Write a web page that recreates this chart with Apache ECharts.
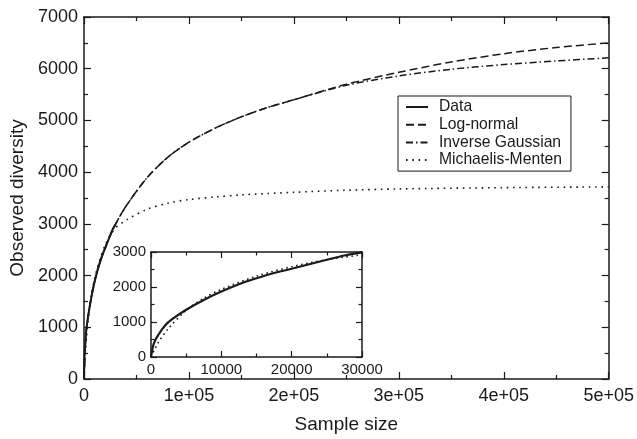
<!DOCTYPE html>
<html>
<head>
<meta charset="utf-8">
<script src="https://cdn.jsdelivr.net/npm/echarts@6/dist/echarts.min.js"></script>
<style>
  html, body { margin: 0; padding: 0; background: #fff; }
  #chart { width: 637px; height: 439px; }
</style>
</head>
<body>
<div id="chart"></div>
<script>
// observed data (sample size -> diversity), covers 0..30000
var dataX = [0, 300, 600, 1000, 2000, 3000, 5000, 7500, 10000, 12500, 15000, 17500, 20000, 22500, 25000, 27500, 30000];
var dataY = [0, 320, 480, 620, 900, 1080, 1350, 1630, 1870, 2080, 2250, 2400, 2520, 2650, 2780, 2900, 2990];

// fitted curves over the full range
var fitX = [0, 2000, 5000, 10000, 20000, 30000, 40000, 60000, 80000, 100000, 125000, 150000, 175000, 200000, 250000, 300000, 350000, 400000, 450000, 500000];
var logNormal = [0, 900, 1350, 1880, 2530, 2990, 3340, 3890, 4290, 4580, 4850, 5070, 5250, 5400, 5700, 5930, 6130, 6290, 6410, 6500];
var invGauss = [0, 900, 1350, 1880, 2530, 2990, 3340, 3890, 4290, 4580, 4850, 5070, 5250, 5400, 5680, 5860, 5990, 6080, 6150, 6210];

// Michaelis-Menten
var mmX = [0, 1000, 2500, 5000, 7500, 10000, 15000, 20000, 25000, 30000, 40000, 60000, 80000, 100000, 125000, 150000, 200000, 250000, 300000, 400000, 500000];
var mmY = [0, 400, 820, 1330, 1680, 1930, 2310, 2580, 2780, 2920, 3070, 3280, 3400, 3470, 3520, 3560, 3610, 3650, 3675, 3700, 3715];

var legendNames = ['Data', 'Log-normal', 'Inverse Gaussian', 'Michaelis-Menten'];

function pairs(xs, ys) {
  return xs.map(function (x, i) { return [x, ys[i]]; });
}

var ink = '#1a1a1a';
var font = 'Liberation Sans, Arial, sans-serif';

function mkAxis(extra, fontSize, tickLen) {
  var a = {
    type: 'value',
    axisLine: { show: true, onZero: false, lineStyle: { color: ink, width: 1.5 } },
    axisTick: { show: true, inside: true, length: tickLen, lineStyle: { color: ink, width: 1.2 } },
    minorTick: { show: true, splitNumber: 2, length: tickLen / 2 + 0.5, lineStyle: { color: ink, width: 1.2 } },
    splitLine: { show: false },
    minorSplitLine: { show: false },
    axisLabel: { color: ink, fontSize: fontSize, fontFamily: font, margin: 6, formatter: plainFmt }
  };
  for (var k in extra) a[k] = extra[k];
  return a;
}

function plainFmt(v) { return String(v); }
function sciFmt(v) { return v === 0 ? '0' : (v / 100000) + 'e+05'; }

var chart = echarts.init(document.getElementById('chart'));
chart.setOption({
  animation: false,
  backgroundColor: '#fff',
  legend: {
    data: legendNames,
    orient: 'vertical',
    left: 398,
    top: 96,
    padding: [3, 9, 3, 7],
    itemGap: 1.7,
    itemWidth: 22,
    itemHeight: 16,
    borderColor: ink,
    borderWidth: 1,
    borderRadius: 0,
    backgroundColor: '#fff',
    itemStyle: { opacity: 0 },
    textStyle: { color: ink, fontSize: 15.7, lineHeight: 16, fontFamily: font, padding: [0, 0, 0, 6] }
  },
  grid: [
    { left: 83, top: 17, width: 527, height: 370 },
    { left: 151, top: 252, width: 211, height: 105, show: true, backgroundColor: '#fff', borderWidth: 0 }
  ],
  xAxis: [
    mkAxis({ gridIndex: 0, position: 'bottom', min: 0, max: 500000, interval: 100000,
      name: 'Sample size', nameLocation: 'middle', nameGap: 36,
      nameTextStyle: { color: ink, fontSize: 19, fontFamily: font },
      axisLabel: { color: ink, fontSize: 18, fontFamily: font, margin: 8, formatter: sciFmt } }, 18, 7),
    mkAxis({ gridIndex: 0, position: 'top', min: 0, max: 500000, interval: 100000,
      axisLabel: { show: false } }, 18, 7),
    mkAxis({ gridIndex: 1, position: 'bottom', min: 0, max: 30000, interval: 10000,
      axisLabel: { color: ink, fontSize: 15, fontFamily: font, margin: 5, formatter: plainFmt } }, 15, 6),
    mkAxis({ gridIndex: 1, position: 'top', min: 0, max: 30000, interval: 10000,
      axisLabel: { show: false } }, 15, 6)
  ],
  yAxis: [
    mkAxis({ gridIndex: 0, position: 'left', min: 0, max: 7000, interval: 1000,
      name: 'Observed diversity', nameLocation: 'middle', nameGap: 57,
      nameTextStyle: { color: ink, fontSize: 19, fontFamily: font },
      axisLabel: { color: ink, fontSize: 18, fontFamily: font, margin: 6, formatter: plainFmt } }, 18, 7),
    mkAxis({ gridIndex: 0, position: 'right', min: 0, max: 7000, interval: 1000,
      axisLabel: { show: false } }, 18, 7),
    mkAxis({ gridIndex: 1, position: 'left', min: 0, max: 3000, interval: 1000,
      axisLabel: { color: ink, fontSize: 15, fontFamily: font, margin: 5, formatter: plainFmt } }, 15, 6),
    mkAxis({ gridIndex: 1, position: 'right', min: 0, max: 3000, interval: 1000,
      axisLabel: { show: false } }, 15, 6)
  ],
  series: [
    { name: 'Data', type: 'line', xAxisIndex: 0, yAxisIndex: 0, data: pairs(dataX, dataY),
      smooth: 0.3, symbol: 'none', z: 5, lineStyle: { color: ink, width: 2, type: 'solid' }, itemStyle: { color: ink } },
    { name: 'Log-normal', type: 'line', xAxisIndex: 0, yAxisIndex: 0, data: pairs(fitX, logNormal),
      smooth: 0.3, symbol: 'none', lineStyle: { color: ink, width: 1.5, type: [8, 4] }, itemStyle: { color: ink } },
    { name: 'Inverse Gaussian', type: 'line', xAxisIndex: 0, yAxisIndex: 0, data: pairs(fitX, invGauss),
      smooth: 0.3, symbol: 'none', lineStyle: { color: ink, width: 1.5, type: [7, 3, 1.5, 3] }, itemStyle: { color: ink } },
    { name: 'Michaelis-Menten', type: 'line', xAxisIndex: 0, yAxisIndex: 0, data: pairs(mmX, mmY),
      smooth: 0.3, symbol: 'none', lineStyle: { color: ink, width: 1.6, type: [1.6, 4.7] }, itemStyle: { color: ink } },
    { name: 'Data', type: 'line', xAxisIndex: 2, yAxisIndex: 2, data: pairs(dataX, dataY),
      smooth: 0.3, symbol: 'none', z: 5, lineStyle: { color: ink, width: 2.2, type: 'solid' }, itemStyle: { color: ink } },
    { name: 'Michaelis-Menten', type: 'line', xAxisIndex: 2, yAxisIndex: 2, data: pairs(mmX.slice(0, 10), mmY.slice(0, 10)),
      smooth: 0.3, symbol: 'none', lineStyle: { color: ink, width: 1.6, type: [1.6, 3.5] }, itemStyle: { color: ink } }
  ]
});
</script>
</body>
</html>
